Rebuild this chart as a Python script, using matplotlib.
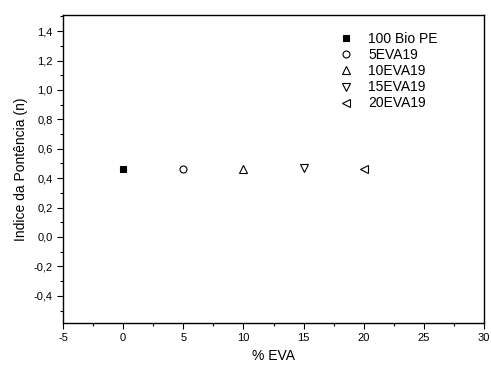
import matplotlib
matplotlib.use("Agg")
import matplotlib.pyplot as plt
from matplotlib.ticker import MultipleLocator, FuncFormatter

plt.rcParams["font.family"] = ["Liberation Sans", "DejaVu Sans"]

eva = [0, 5, 10, 15, 20]
n_index = [0.46, 0.46, 0.465, 0.47, 0.465]
labels = ["100 Bio PE", "5EVA19", "10EVA19", "15EVA19", "20EVA19"]
markers = ["s", "o", "^", "v", "<"]
sizes = [5, 5, 5.5, 5.5, 5.5]

fig = plt.figure(figsize=(4.91, 3.69), dpi=100)
ax = fig.add_axes([63 / 491, 1 - 323 / 369, 421 / 491, 308 / 369])

for x, y, lab, m, sz in zip(eva, n_index, labels, markers, sizes):
    filled = m == "s"
    ax.plot([x], [y], ls="none", marker=m, ms=sz,
            mfc="black" if filled else "white", mec="black", mew=0.8, label=lab)

ax.set_xlim(-5, 30)
ax.set_ylim(-0.585, 1.51)
ax.xaxis.set_major_locator(MultipleLocator(5))
ax.xaxis.set_minor_locator(MultipleLocator(2.5))
ax.yaxis.set_major_locator(MultipleLocator(0.2))
ax.yaxis.set_minor_locator(MultipleLocator(0.1))
ax.yaxis.set_major_formatter(FuncFormatter(lambda v, p: f"{v:.1f}".replace(".", ",").replace("-0,0", "0,0")))
ax.xaxis.set_major_formatter(FuncFormatter(lambda v, p: f"{v:g}"))
ax.tick_params(which="major", length=4, width=0.8, labelsize=8)
ax.tick_params(which="minor", length=2.5, width=0.8)
for s in ax.spines.values():
    s.set_linewidth(1.0)

ax.set_xlabel("% EVA", fontsize=10)
ax.set_ylabel("Indice da Pontência (n)", fontsize=10)

ax.legend(loc="upper right", bbox_to_anchor=(0.92, 0.985), frameon=False,
          fontsize=10, handletextpad=1.0, labelspacing=0.15, handlelength=1.2)

fig.savefig("out.png", dpi=100)
